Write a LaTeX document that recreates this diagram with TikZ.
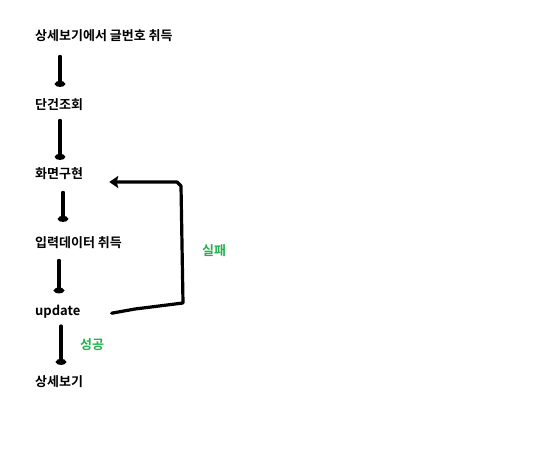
\documentclass[tikz,border=0pt]{standalone}
\usepackage{fontspec}
\setmainfont{Noto Sans CJK KR}[BoldFont={* Bold}]
\usetikzlibrary{arrows.meta}
\definecolor{paintgreen}{HTML}{22B14C}
\tikzset{
  lbl/.style={anchor=base west, inner sep=0pt, font=\fontsize{13pt}{15pt}\selectfont\bfseries},
  glbl/.style={lbl, text=paintgreen},
  hand/.style={line width=3.2pt, line cap=round, line join=round, black},
  blob/.style={hand, -{Circle[length=6pt,width=10pt]}},
  back/.style={hand, -{Stealth[length=9pt,width=12pt,inset=1.5pt]}}
}
\begin{document}
\begin{tikzpicture}[x=1pt,y=-1pt]
\useasboundingbox[fill=white] (0,0) rectangle (541,470);
\node[lbl] (n1) at (35,41) {상세보기에서 글번호 취득};
\node[lbl] (n2) at (35,110) {단건조회};
\node[lbl] (n3) at (35,179) {화면구현};
\node[lbl] (n4) at (35,248) {입력데이터 취득};
\node[lbl] (n5) at (35,316) {update};
\node[lbl] (n6) at (35,386) {상세보기};
\node[glbl] (fail) at (202,256) {실패};
\node[glbl] (ok) at (80,349) {성공};
\coordinate (ax1) at (60,0);
\coordinate (ax3) at (63,0);
\coordinate (ax4) at (59,0);
\coordinate (ax5) at (61,0);
\draw[blob, shorten <=14pt, shorten >=12pt] (n1.south -| ax1) -- (n2.north -| ax1);
\draw[blob, shorten <=9pt, shorten >=8pt] (n2.south -| ax1) -- (n3.north -| ax1);
\draw[blob, shorten <=12pt, shorten >=15pt] (n3.south -| ax3) -- (n4.north -| ax3);
\draw[blob, shorten <=11pt, shorten >=12pt] (n4.south -| ax4) -- (n5.north -| ax4);
\draw[blob, shorten <=7pt, shorten >=10pt] (n5.south -| ax5) -- (n6.north -| ax5);
\coordinate (c1) at (135,309);
\coordinate (c2) at (183,303);
\coordinate (c3) at (181,186);
\coordinate (c4) at (177,182);
\coordinate (c5) at (150,182);
\draw[back] ([xshift=31pt,yshift=-1pt]n5.east) -- (c1) -- (c2) -- (c3) -- (c4) -- (c5) -- ([xshift=26pt]n3.east |- c5);
\end{tikzpicture}
\end{document}
